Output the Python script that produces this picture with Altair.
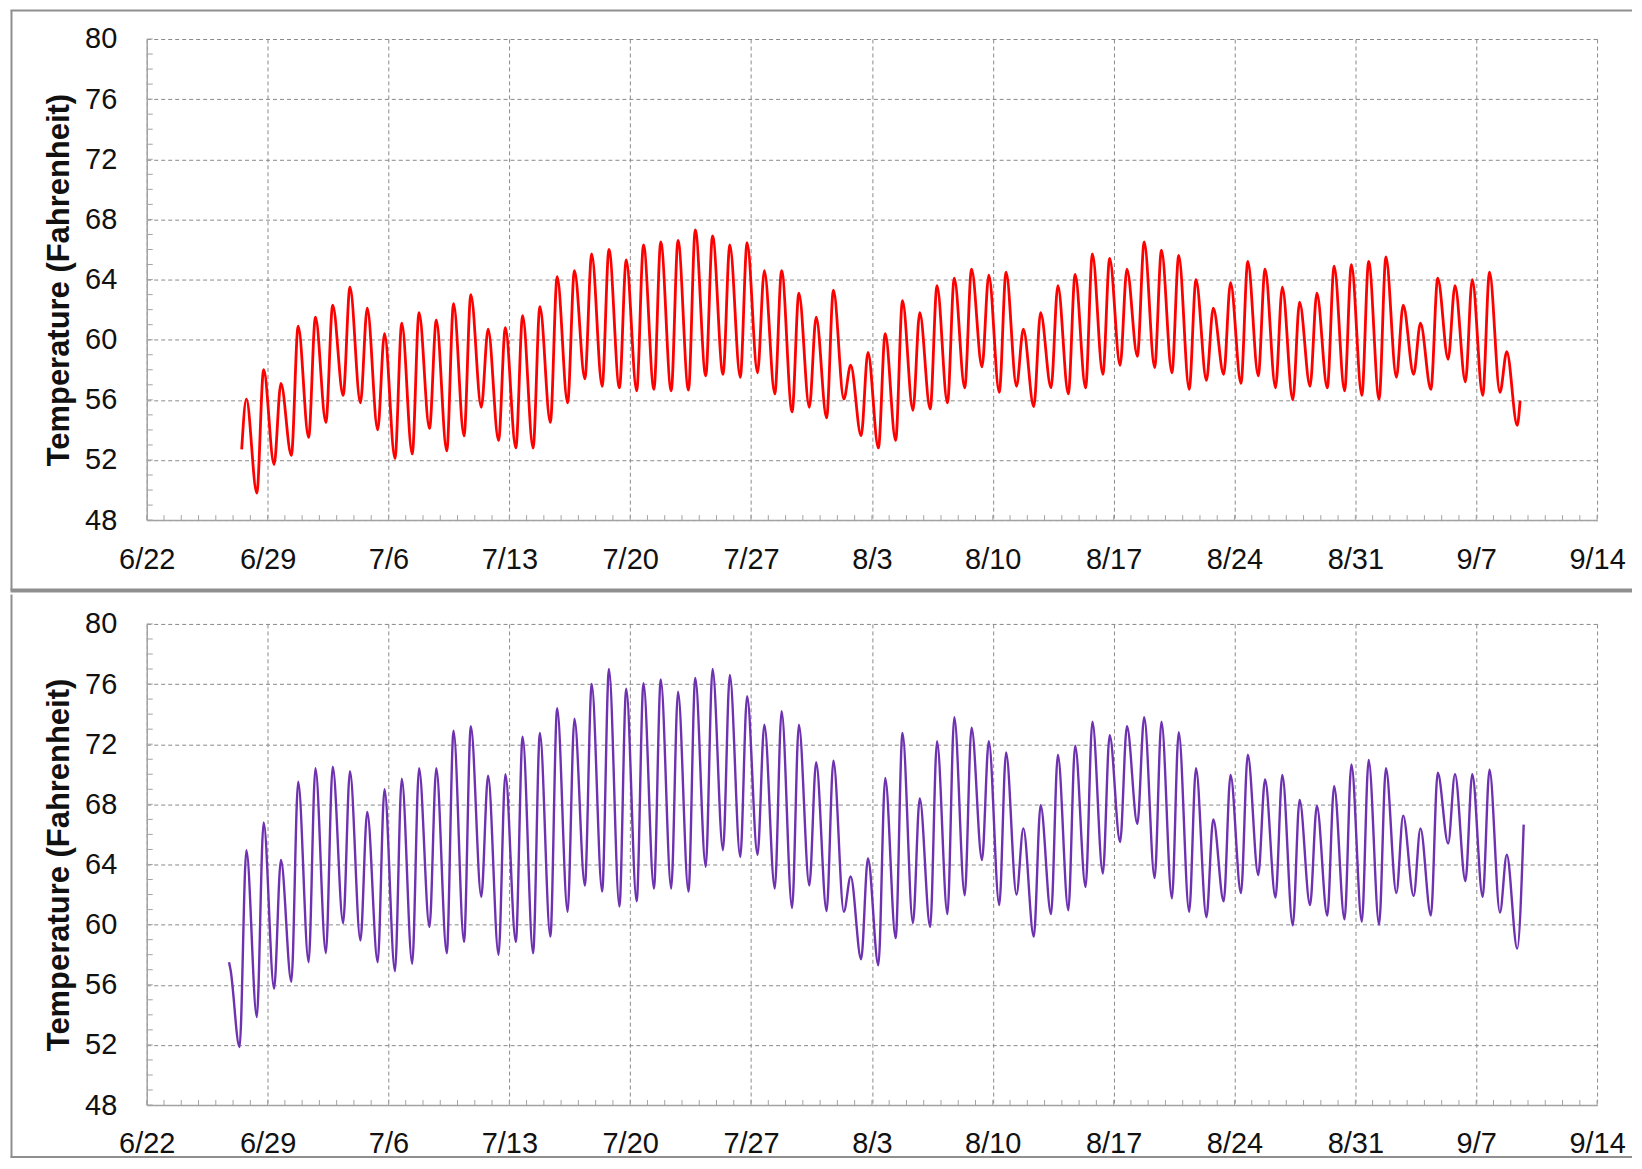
import altair as alt
import pandas as pd

YEAR = 2013

# ---------------- data ----------------
DAYS = (
    ["6/27", "6/28", "6/29", "6/30"]
    + [f"7/{d}" for d in range(1, 32)]
    + [f"8/{d}" for d in range(1, 32)]
    + [f"9/{d}" for d in range(1, 10)]
)

MIN_TIME = "09:00"   # time of day of the daily low
MAX_TIME = "18:30"   # time of day of the daily high

# upper panel (red)
TOP_MIN = [None, 49.8, 51.7, 52.3,
           53.5, 54.5, 56.3, 55.8, 54.0, 52.1, 52.4, 54.1, 52.6, 53.6, 55.5, 53.3, 52.8, 52.8, 54.5, 55.8,
           57.4, 56.9, 56.8, 56.6, 56.7, 56.6, 56.65, 57.6, 57.7, 57.5, 57.8, 56.4, 55.2, 55.5, 54.8,
           56.05, 53.6, 52.8, 53.3, 55.3, 55.4, 55.8, 56.8, 58.2, 56.5, 56.9, 55.55, 56.8, 56.4, 56.8,
           57.7, 58.3, 58.9, 58.15, 57.8, 56.7, 57.3, 57.7, 57.1, 57.6, 56.8, 56.0, 56.9, 56.8, 56.6, 56.3,
           56.05, 57.5, 57.7, 56.7, 58.7, 57.2, 56.3, 56.5, 54.3]
TOP_MAX = [56.05, 58.0, 57.1, 60.9,
           61.5, 62.3, 63.5, 62.1, 60.4, 61.1, 61.8, 61.3, 62.4, 63.0, 60.7, 60.8, 61.6, 62.2, 64.2, 64.6,
           65.7, 66.0, 65.3, 66.3, 66.5, 66.6, 67.3, 66.9, 66.3, 66.45, 64.6, 64.6, 63.1, 61.5, 63.3,
           58.3, 59.15, 60.4, 62.6, 61.8, 63.6, 64.1, 64.7, 64.3, 64.5, 60.7, 61.8, 63.6, 64.35, 65.7,
           65.4, 64.7, 66.5, 65.95, 65.6, 64.0, 62.1, 63.8, 65.2, 64.7, 63.5, 62.5, 63.1, 64.9, 65.0, 65.2,
           65.5, 62.3, 61.1, 64.1, 63.6, 64.0, 64.5, 59.2, None]
TOP_START = [("6/27", "12:00", 52.7)]
TOP_END = [("9/9", "13:00", 55.95)]

# lower panel (purple)
BOT_MIN = [51.85, 53.85, 55.75, 56.2,
           57.5, 58.1, 60.1, 58.95, 57.5, 56.9, 57.4, 59.85, 58.1, 58.85, 61.85, 58.0, 58.85, 58.1, 59.2, 60.85,
           62.6, 62.2, 61.2, 61.55, 62.4, 62.4, 62.2, 63.85, 64.95, 64.5, 64.65, 62.4, 61.1, 62.6, 60.9,
           60.85, 57.7, 57.3, 59.1, 60.1, 59.85, 60.7, 61.95, 64.3, 61.3, 62.0, 59.2, 60.7, 60.95, 62.5,
           63.4, 65.5, 66.7, 63.1, 61.75, 60.85, 60.5, 61.55, 62.1, 63.3, 61.8, 59.95, 61.3, 60.6, 60.35, 60.2,
           60.0, 62.1, 61.9, 60.6, 65.4, 62.9, 61.85, 60.8, 58.4]
BOT_MAX = [64.95, 66.8, 64.3, 69.5,
           70.4, 70.5, 70.2, 67.5, 69.0, 69.7, 70.4, 70.4, 72.9, 73.2, 69.9, 70.0, 72.5, 72.75, 74.4, 73.7,
           76.0, 77.0, 75.7, 76.05, 76.3, 75.5, 76.4, 77.0, 76.6, 75.2, 73.3, 74.2, 73.3, 70.8, 70.9,
           63.2, 64.4, 69.75, 72.75, 68.4, 72.2, 73.8, 73.1, 72.2, 71.45, 66.4, 67.95, 71.3, 71.9, 73.5,
           72.6, 73.2, 73.8, 73.5, 72.8, 70.4, 67.0, 69.95, 71.3, 69.65, 69.95, 68.3, 67.9, 69.2, 70.65, 70.95,
           70.4, 67.25, 66.4, 70.1, 70.0, 70.0, 70.3, 64.65, None]
BOT_START = [("6/26", "18:20", 57.5), ("6/26", "20:30", 57.0)]
BOT_END = [("9/9", "18:00", 66.65)]

TICK_LABELS = ["6/22", "6/29", "7/6", "7/13", "7/20", "7/27", "8/3",
               "8/10", "8/17", "8/24", "8/31", "9/7", "9/14"]
Y_TICKS = [48, 52, 56, 60, 64, 68, 72, 76, 80]
Y_TITLE = "Temperature (Fahrenheit)"

# ---------------- helpers ----------------
def iso(md, hm="00:00"):
    m, d = md.split("/")
    return f"{YEAR}-{int(m):02d}-{int(d):02d}T{hm}:00"


def dt(md):
    m, d = md.split("/")
    return alt.DateTime(year=YEAR, month=int(m), date=int(d), hours=0)


def series(start, mins, maxs, end):
    rows = [{"t": iso(d, h), "temp": v} for d, h, v in start]
    for day, lo, hi in zip(DAYS, mins, maxs):
        if lo is not None:
            rows.append({"t": iso(day, MIN_TIME), "temp": lo})
        if hi is not None:
            rows.append({"t": iso(day, MAX_TIME), "temp": hi})
    rows += [{"t": iso(d, h), "temp": v} for d, h, v in end]
    return pd.DataFrame(rows)


top_df = series(TOP_START, TOP_MIN, TOP_MAX, TOP_END)
bot_df = series(BOT_START, BOT_MIN, BOT_MAX, BOT_END)

# minor tick positions (one per day, one per degree)
minor_x = pd.DataFrame({"t": [d.strftime("%Y-%m-%dT00:00:00")
                              for d in pd.date_range(f"{YEAR}-06-22", f"{YEAR}-09-14", freq="D")]})
minor_y = pd.DataFrame({"temp": list(range(48, 81))})

# ---------------- styling ----------------
W, H = 1453, 482
FONT = "Liberation Sans"
GRID = "#8a8a8a"
AXIS = "#a3a3a3"
FRAME = "#8f8f8f"

x_scale = alt.Scale(domain=[dt(TICK_LABELS[0]), dt(TICK_LABELS[-1])], nice=False)
y_scale = alt.Scale(domain=[Y_TICKS[0], Y_TICKS[-1]], nice=False)

x_axis = alt.Axis(
    values=[dt(s) for s in TICK_LABELS], format="%-m/%-d", title=None,
    grid=True, gridColor=GRID, gridDash=[4, 3], gridWidth=1,
    domainColor=AXIS, domainWidth=1.5, ticks=False, tickSize=0,
    labelFont=FONT, labelFontSize=29, labelColor="#111111", labelPadding=25,
    labelOverlap=False, labelFlush=False,
)
y_axis = alt.Axis(
    values=Y_TICKS, title=Y_TITLE,
    grid=True, gridColor=GRID, gridDash=[4, 3], gridWidth=1,
    domainColor=AXIS, domainWidth=1.5, ticks=False, tickSize=0,
    labelFont=FONT, labelFontSize=29, labelColor="#111111", labelPadding=30,
    titleFont=FONT, titleFontSize=31, titleFontWeight="bold", titleColor="#111111",
    titlePadding=9,
)

one = alt.Data(values=[{"k": 1}])


def frame_rule(x, x2, y, y2, width):
    return alt.Chart(one).mark_rule(color=FRAME, strokeWidth=width).encode(
        x=alt.value(x), x2=alt.value(x2), y=alt.value(y), y2=alt.value(y2))


def panel(df, color, line_width, frames):
    X = alt.X("t:T", scale=x_scale, axis=x_axis, title=None)
    Y = alt.Y("temp:Q", scale=y_scale, axis=y_axis, title=Y_TITLE)
    line = alt.Chart(df).mark_line(color=color, strokeWidth=line_width,
                                   interpolate="monotone").encode(x=X, y=Y)
    xt = alt.Chart(minor_x).mark_rule(color=AXIS, strokeWidth=1).encode(
        x=X, y=alt.value(H), y2=alt.value(H - 5))
    yt = alt.Chart(minor_y).mark_rule(color=AXIS, strokeWidth=1).encode(
        y=Y, x=alt.value(0), x2=alt.value(6))
    return alt.layer(line, xt, yt, *frames).properties(width=W, height=H)


LEFT = -135.5
RIGHT = 1488
top = panel(top_df, "#ff0000", 2.8, [
    frame_rule(LEFT, LEFT, -28.5, 552.5, 2),       # left border
    frame_rule(LEFT - 1, RIGHT, -28.5, -28.5, 2),  # top border
    frame_rule(LEFT - 1, RIGHT, 552.5, 552.5, 4),  # separator
])
bottom = panel(bot_df, "#6e32b0", 2.4, [
    frame_rule(LEFT, LEFT, -29.5, 534.5, 2),       # left border
    frame_rule(LEFT - 1, RIGHT, 534, 534, 2),      # bottom border
])

chart = alt.vconcat(top, bottom, spacing=0).properties(
    padding=0, background="white"
).configure_view(stroke=None)

chart.save("out.html", embed_options={"renderer": "svg", "actions": False})
